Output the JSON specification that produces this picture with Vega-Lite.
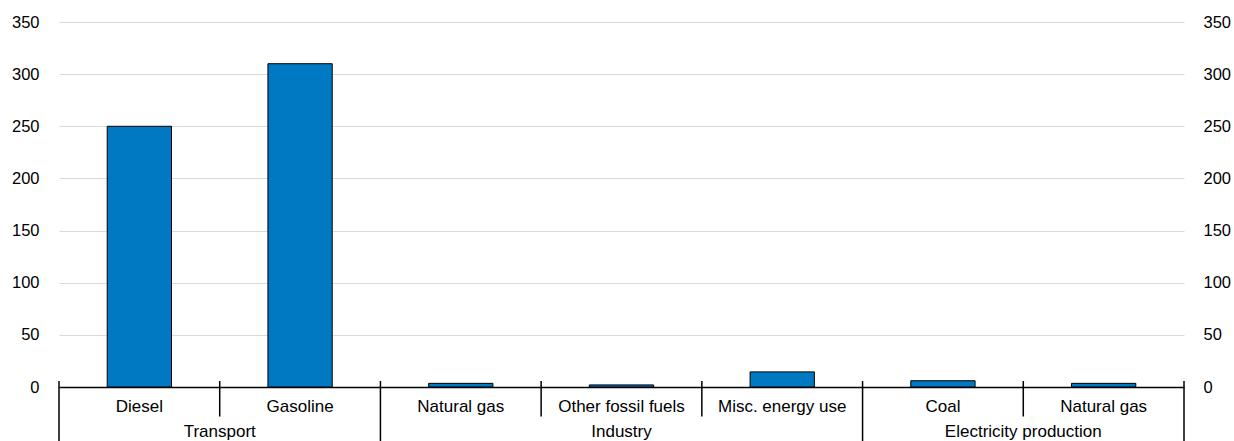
{
  "$schema": "https://vega.github.io/schema/vega-lite/v6.json",
  "width": 1125,
  "height": 365,
  "autosize": {"type": "none"},
  "padding": {"left": 59, "top": 22, "right": 50, "bottom": 54},
  "config": {
    "view": {"stroke": null},
    "font": "Liberation Sans",
    "axisX": {"labels": false, "ticks": false, "grid": false, "domainColor": "#000000", "domainWidth": 1.5, "title": null}
  },
  "data": {
    "values": [
      {"key": "Diesel", "label": "Diesel", "group": "Transport", "value": 250},
      {"key": "Gasoline", "label": "Gasoline", "group": "Transport", "value": 310},
      {"key": "Natural gas (industry)", "label": "Natural gas", "group": "Industry", "value": 3.5},
      {"key": "Other fossil fuels", "label": "Other fossil fuels", "group": "Industry", "value": 2},
      {"key": "Misc. energy use", "label": "Misc. energy use", "group": "Industry", "value": 14.5},
      {"key": "Coal", "label": "Coal", "group": "Electricity production", "value": 6},
      {"key": "Natural gas (electricity)", "label": "Natural gas", "group": "Electricity production", "value": 3.5}
    ]
  },
  "resolve": {"axis": {"y": "independent"}},
  "layer": [
    {
      "mark": {"type": "bar", "width": {"band": 0.4}, "fill": "#0079C2", "stroke": "#000000", "strokeWidth": 1},
      "encoding": {
        "x": {"field": "key", "type": "nominal", "sort": null, "title": null,
              "scale": {"domain": ["Diesel", "Gasoline", "Natural gas (industry)", "Other fossil fuels", "Misc. energy use", "Coal", "Natural gas (electricity)"], "paddingInner": 0, "paddingOuter": 0}},
        "y": {"field": "value", "type": "quantitative", "title": null,
              "scale": {"domain": [0, 350], "nice": false},
              "axis": {"orient": "left", "values": [0, 50, 100, 150, 200, 250, 300, 350], "grid": true, "gridColor": "#d9d9d9", "gridWidth": 1.2, "domain": false, "ticks": false, "labelPadding": 20, "labelFontSize": 16.5, "labelColor": "#000000", "labelFont": "Liberation Sans"}}
      }
    },
    {
      "mark": {"type": "rule", "opacity": 0},
      "encoding": {
        "x": {"field": "key", "type": "nominal", "sort": null, "title": null,
              "scale": {"domain": ["Diesel", "Gasoline", "Natural gas (industry)", "Other fossil fuels", "Misc. energy use", "Coal", "Natural gas (electricity)"], "paddingInner": 0, "paddingOuter": 0}},
        "y": {"field": "value", "type": "quantitative", "title": null,
              "scale": {"domain": [0, 350], "nice": false},
              "axis": {"orient": "right", "values": [0, 50, 100, 150, 200, 250, 300, 350], "grid": false, "domain": false, "ticks": false, "labelPadding": 19, "labelFontSize": 16.5, "labelColor": "#000000", "labelFont": "Liberation Sans"}}
      }
    },
    {
      "mark": {"type": "text", "baseline": "alphabetic", "align": "center", "dy": 25, "fontSize": 17, "color": "#000000", "font": "Liberation Sans"},
      "encoding": {
        "x": {"field": "key", "type": "nominal", "sort": null, "title": null,
              "scale": {"domain": ["Diesel", "Gasoline", "Natural gas (industry)", "Other fossil fuels", "Misc. energy use", "Coal", "Natural gas (electricity)"], "paddingInner": 0, "paddingOuter": 0}},
        "y": {"datum": 0, "type": "quantitative", "scale": {"domain": [0, 350], "nice": false}, "axis": null},
        "text": {"field": "label"}
      }
    },
    {
      "transform": [{"filter": {"field": "key", "oneOf": ["Diesel", "Coal"]}}],
      "mark": {"type": "text", "baseline": "alphabetic", "align": "center", "dy": 50, "fontSize": 17, "color": "#000000", "font": "Liberation Sans"},
      "encoding": {
        "x": {"field": "key", "type": "nominal", "sort": null, "title": null, "bandPosition": 1,
              "scale": {"domain": ["Diesel", "Gasoline", "Natural gas (industry)", "Other fossil fuels", "Misc. energy use", "Coal", "Natural gas (electricity)"], "paddingInner": 0, "paddingOuter": 0}},
        "y": {"datum": 0, "type": "quantitative", "scale": {"domain": [0, 350], "nice": false}, "axis": null},
        "text": {"field": "group"}
      }
    },
    {
      "transform": [{"filter": {"field": "key", "oneOf": ["Other fossil fuels"]}}],
      "mark": {"type": "text", "baseline": "alphabetic", "align": "center", "dy": 50, "fontSize": 17, "color": "#000000", "font": "Liberation Sans"},
      "encoding": {
        "x": {"field": "key", "type": "nominal", "sort": null, "title": null,
              "scale": {"domain": ["Diesel", "Gasoline", "Natural gas (industry)", "Other fossil fuels", "Misc. energy use", "Coal", "Natural gas (electricity)"], "paddingInner": 0, "paddingOuter": 0}},
        "y": {"datum": 0, "type": "quantitative", "scale": {"domain": [0, 350], "nice": false}, "axis": null},
        "text": {"field": "group"}
      }
    },
    {
      "transform": [{"filter": {"field": "key", "oneOf": ["Gasoline", "Other fossil fuels", "Misc. energy use", "Natural gas (electricity)"]}}],
      "mark": {"type": "rule", "color": "#000000", "strokeWidth": 1.5},
      "encoding": {
        "x": {"field": "key", "type": "nominal", "sort": null, "title": null, "bandPosition": 0,
              "scale": {"domain": ["Diesel", "Gasoline", "Natural gas (industry)", "Other fossil fuels", "Misc. energy use", "Coal", "Natural gas (electricity)"], "paddingInner": 0, "paddingOuter": 0}},
        "y": {"datum": 5.75, "type": "quantitative", "scale": {"domain": [0, 350], "nice": false}, "axis": null},
        "y2": {"datum": -28.3}
      }
    },
    {
      "transform": [{"filter": {"field": "key", "oneOf": ["Diesel", "Natural gas (industry)", "Coal"]}}],
      "mark": {"type": "rule", "color": "#000000", "strokeWidth": 1.5},
      "encoding": {
        "x": {"field": "key", "type": "nominal", "sort": null, "title": null, "bandPosition": 0,
              "scale": {"domain": ["Diesel", "Gasoline", "Natural gas (industry)", "Other fossil fuels", "Misc. energy use", "Coal", "Natural gas (electricity)"], "paddingInner": 0, "paddingOuter": 0}},
        "y": {"datum": 5.75, "type": "quantitative", "scale": {"domain": [0, 350], "nice": false}, "axis": null},
        "y2": {"datum": -60}
      }
    },
    {
      "transform": [{"filter": {"field": "key", "oneOf": ["Natural gas (electricity)"]}}],
      "mark": {"type": "rule", "color": "#000000", "strokeWidth": 1.5},
      "encoding": {
        "x": {"field": "key", "type": "nominal", "sort": null, "title": null, "bandPosition": 1,
              "scale": {"domain": ["Diesel", "Gasoline", "Natural gas (industry)", "Other fossil fuels", "Misc. energy use", "Coal", "Natural gas (electricity)"], "paddingInner": 0, "paddingOuter": 0}},
        "y": {"datum": 5.75, "type": "quantitative", "scale": {"domain": [0, 350], "nice": false}, "axis": null},
        "y2": {"datum": -60}
      }
    }
  ]
}
